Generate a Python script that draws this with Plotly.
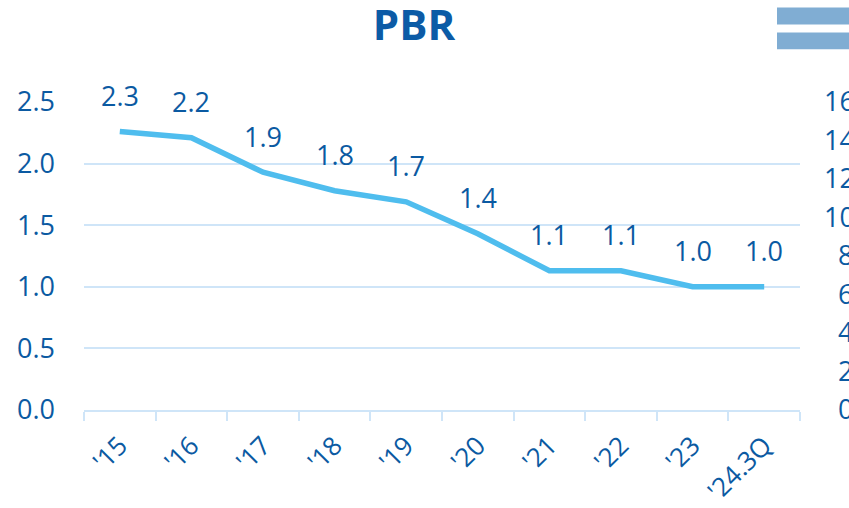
import plotly.graph_objects as go

# PBR by year
years = ["'15", "'16", "'17", "'18", "'19", "'20", "'21", "'22", "'23", "'24.3Q"]
pbr = [2.26, 2.21, 1.93, 1.78, 1.69, 1.43, 1.13, 1.13, 1.00, 1.00]
pbr_labels = ["2.3", "2.2", "1.9", "1.8", "1.7", "1.4", "1.1", "1.1", "1.0", "1.0"]

left_ticks = [0.0, 0.5, 1.0, 1.5, 2.0, 2.5]
right_ticks = [0, 2, 4, 6, 8, 10, 12, 14, 16]

text_blue = "#0B5AA2"
line_blue = "#4FBDEE"
grid_blue = "#CFE5F8"
font_family = "Open Sans, Lato, sans-serif"

W, H = 855, 508
ML, MR, MT, MB = 84, 0, 102, 96
plot_right = 800

fig = go.Figure()

fig.add_trace(
    go.Scatter(
        x=years,
        y=pbr,
        mode="lines",
        line=dict(color=line_blue, width=5.5),
        showlegend=False,
        hoverinfo="x+y",
    )
)

# dummy trace so the right axis shows up
fig.add_trace(
    go.Scatter(x=years, y=[None] * len(years), yaxis="y2", showlegend=False, hoverinfo="skip")
)

# value labels above the line
for x, y, t in zip(years, pbr, pbr_labels):
    fig.add_annotation(
        x=x, y=y, text=t, showarrow=False, yshift=36,
        font=dict(size=27, color=text_blue, family=font_family),
    )

# the two cut-off bars at top right
for y0, y1 in [(7, 24), (32, 49)]:
    fig.add_shape(
        type="rect", xref="paper", yref="paper",
        x0=(777 - ML) / (W - ML - MR), x1=1.05,
        y0=1 + (MT - y1) / (H - MT - MB), y1=1 + (MT - y0) / (H - MT - MB),
        fillcolor="#80ADD3", line=dict(width=0), layer="above",
    )

# right axis labels: pad single digits so they line up on the right
right_text = [("\u00a0\u00a0" + str(v)) if v < 10 else str(v) for v in right_ticks]

fig.update_layout(
    width=W,
    height=H,
    autosize=False,
    margin=dict(l=ML, r=MR, t=MT, b=MB),
    paper_bgcolor="white",
    plot_bgcolor="white",
    font=dict(family=font_family, color=text_blue),
    title=dict(
        text="<b>PBR</b>",
        x=414 / W, xanchor="center",
        y=1 - 25 / H, yanchor="middle",
        font=dict(size=42, color="#0C5BA6", family=font_family),
    ),
    xaxis=dict(
        domain=[0, (plot_right - ML) / (W - ML - MR)],
        tickangle=-45,
        tickson="boundaries",
        ticks="outside",
        ticklen=9,
        tickwidth=2,
        tickcolor=grid_blue,
        showline=True,
        linecolor=grid_blue,
        linewidth=2,
        showgrid=False,
        tickfont=dict(size=26, color=text_blue),
        ticklabelstandoff=8,
        range=[-0.5, len(years) - 0.5],
    ),
    yaxis=dict(
        range=[0, 2.5],
        tickvals=left_ticks,
        ticktext=[f"{v:.1f}" for v in left_ticks],
        showgrid=True,
        gridcolor=grid_blue,
        gridwidth=1.5,
        zeroline=False,
        showline=False,
        tickfont=dict(size=27, color=text_blue),
        ticklabelstandoff=28,
    ),
    yaxis2=dict(
        range=[0, 16],
        tickvals=right_ticks,
        ticktext=right_text,
        overlaying="y",
        side="right",
        anchor="x",
        showgrid=False,
        zeroline=False,
        showline=False,
        tickfont=dict(size=27, color=text_blue),
        ticklabelstandoff=23,
    ),
)

fig.write_html(
    "out.html",
    config={"displayModeBar": False},
    post_script="document.body.style.margin='0';document.body.style.overflow='hidden';",
)
